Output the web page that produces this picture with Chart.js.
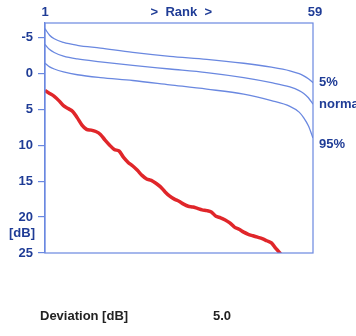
<!DOCTYPE html>
<html>
<head>
<meta charset="utf-8">
<script src="https://cdn.jsdelivr.net/npm/chart.js@4"></script>
<style>
  body { margin: 0; background: #fff; }
  #wrap { position: relative; width: 356px; height: 336px; }
</style>
</head>
<body>
<div id="wrap"><canvas id="myChart" width="356" height="336"></canvas></div>
<script>
// rank positions where the norm curves are read
const normRanks = [1, 2, 3, 5, 8, 13, 20, 28, 36, 44, 50, 54, 56, 57, 58, 59];
const curve5 = [-6.2, -5.3, -4.8, -4.3, -3.9, -3.5, -2.9, -2.35, -1.95, -1.4, -0.85, -0.35, 0.05, 0.35, 0.75, 1.3];
const curveNormal = [-4.0, -3.3, -2.9, -2.4, -2.0, -1.6, -1.1, -0.6, -0.1, 0.6, 1.3, 1.9, 2.4, 2.8, 3.4, 4.3];
const curve95 = [-1.4, -0.9, -0.6, -0.2, 0.2, 0.6, 1.0, 1.6, 2.2, 2.9, 3.8, 4.6, 5.4, 6.2, 7.3, 9.0];

// patient defect curve, rank 1..52
const patient = [2.4, 2.8, 3.2, 3.8, 4.5, 4.9, 5.3, 6.2, 7.2, 7.8,
  7.9, 8.1, 8.5, 9.3, 10.0, 10.6, 10.8, 11.7, 12.4, 12.9,
  13.5, 14.2, 14.7, 14.9, 15.3, 15.8, 16.5, 17.1, 17.5, 17.8,
  18.2, 18.5, 18.6, 18.8, 19.0, 19.1, 19.3, 19.9, 20.1, 20.4,
  20.8, 21.4, 21.7, 22.1, 22.4, 22.6, 22.8, 23.0, 23.3, 23.6,
  24.4, 25.1];

const yTicks = [-5, 0, 5, 10, 15, 20, 25];
const rightLabels = ['5%', 'normal', '95%'];

const blue = '#6a88e0';
const textBlue = '#1f3c96';
const font = 'bold 13px "Liberation Sans", Arial, sans-serif';

function pts(ranks, vals) {
  return vals.map((v, i) => ({ x: ranks[i], y: v }));
}
const patientRanks = patient.map((v, i) => i + 1);

const labelsPlugin = {
  id: 'labels',
  afterDraw(chart) {
    const c = chart.ctx;
    const a = chart.chartArea;
    const xs = chart.scales.x;
    const ys = chart.scales.y;
    c.save();
    c.strokeStyle = blue;
    c.lineWidth = 1.2;
    c.strokeRect(a.left, a.top, a.right - a.left, a.bottom - a.top);
    c.font = font;
    c.fillStyle = textBlue;
    c.textBaseline = 'middle';
    c.textAlign = 'center';
    c.fillText('1', xs.getPixelForValue(1), 12);
    c.fillText('59', xs.getPixelForValue(59) + 2, 12);
    c.fillText('>  Rank  >', xs.getPixelForValue(30.5), 12);
    c.textAlign = 'left';
    const ends = [curve5[curve5.length - 1], curveNormal[curveNormal.length - 1], curve95[curve95.length - 1]];
    const offs = [0, 0, 0];
    rightLabels.forEach((t, i) => {
      let y = ys.getPixelForValue(ends[i]);
      if (i == 1) y = y + 0;
      if (i == 2) y = ys.getPixelForValue(ends[i]) + 6;
      c.fillText(t, a.right + 6, y + offs[i]);
    });
    c.textAlign = 'center';
    c.fillText('[dB]', 22, ys.getPixelForValue(22.3));
    c.fillStyle = '#222';
    c.textAlign = 'left';
    c.fillText('Deviation [dB]', 40, 316);
    c.fillText('5.0', 213, 316);
    c.restore();
  }
};

const ctx = document.getElementById('myChart');
new Chart(ctx, {
  type: 'line',
  data: {
    datasets: [
      { label: '5%', data: pts(normRanks, curve5), borderColor: blue, borderWidth: 1.3, cubicInterpolationMode: 'monotone' },
      { label: 'normal', data: pts(normRanks, curveNormal), borderColor: blue, borderWidth: 1.3, cubicInterpolationMode: 'monotone' },
      { label: '95%', data: pts(normRanks, curve95), borderColor: blue, borderWidth: 1.3, cubicInterpolationMode: 'monotone' },
      { label: 'patient', data: pts(patientRanks, patient), borderColor: '#e0262a', borderWidth: 3.5, tension: 0.3 }
    ]
  },
  options: {
    responsive: false,
    devicePixelRatio: 1,
    animation: false,
    elements: { point: { radius: 0 } },
    layout: { padding: { top: 23, right: 43, bottom: 83, left: 0 } },
    plugins: { legend: { display: false }, tooltip: { enabled: false } },
    scales: {
      x: {
        type: 'linear',
        position: 'top',
        min: 1,
        max: 59,
        ticks: { display: false },
        grid: { display: false },
        border: { display: false },
        afterFit(scale) { scale.height = 0; }
      },
      y: {
        type: 'linear',
        reverse: true,
        min: -7,
        max: 25,
        afterBuildTicks(scale) { scale.ticks = yTicks.map(v => ({ value: v })); },
        ticks: {
          color: textBlue,
          font: { family: '"Liberation Sans", Arial, sans-serif', size: 13, weight: 'bold' },
          padding: 5
        },
        grid: { drawOnChartArea: false, drawTicks: true, tickLength: 7, color: blue, lineWidth: 1.2 },
        border: { display: true, color: blue, width: 1.2 },
        afterFit(scale) { scale.width = 45; }
      }
    }
  },
  plugins: [labelsPlugin]
});
</script>
</body>
</html>
